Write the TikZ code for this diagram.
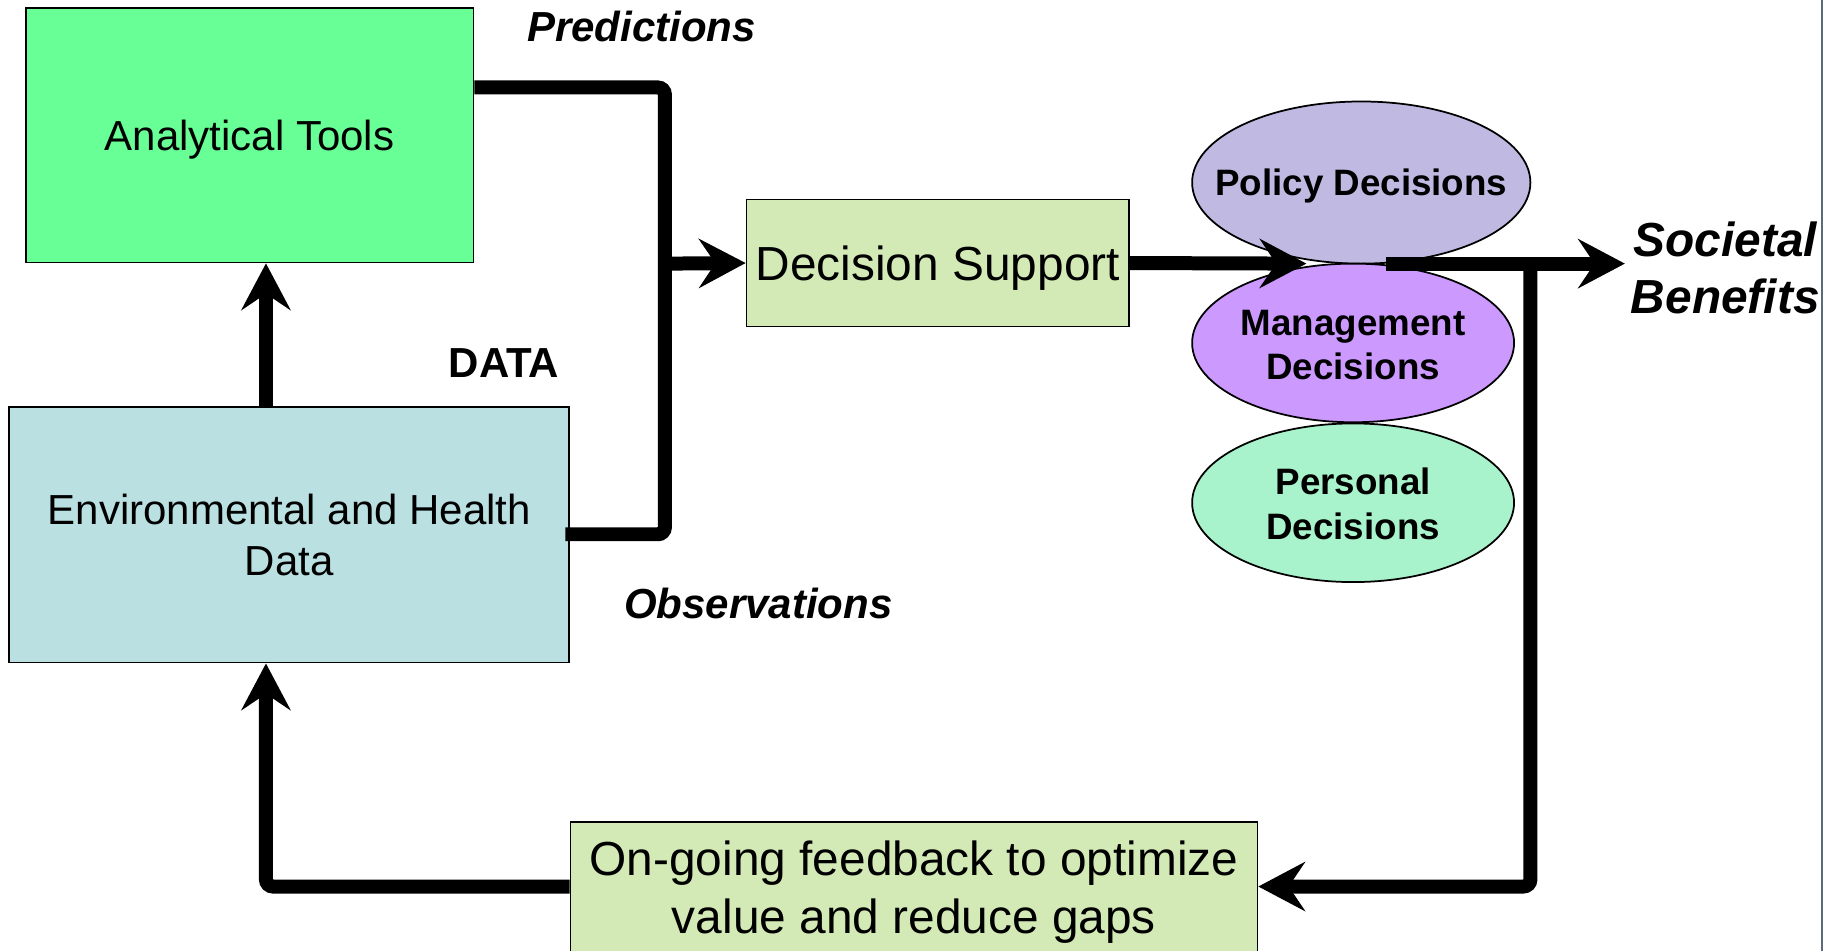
\documentclass[tikz,border=0pt]{standalone}
\usepackage{fontspec}
\setmainfont{Liberation Sans}
\usetikzlibrary{arrows.meta,shapes.geometric}
\definecolor{atgreen}{HTML}{68FF96}
\definecolor{envblue}{HTML}{BAE0E2}
\definecolor{dsgreen}{HTML}{D3EAB6}
\definecolor{polcol}{HTML}{C0BAE3}
\definecolor{mancol}{HTML}{CC99FF}
\definecolor{percol}{HTML}{A8F3CB}
\definecolor{framegrey}{HTML}{5C6B7A}
\begin{document}
\begin{tikzpicture}[x=1pt,y=-1pt,
  box/.style={draw=black, line width=1.5pt, rectangle, inner sep=0pt, align=center},
  ell/.style={draw=black, line width=1.5pt, ellipse, inner sep=0pt},
  etext/.style={font=\fontsize{31.5}{38}\selectfont\bfseries, align=center, inner sep=0pt},
  conn/.style={line width=12pt, rounded corners=6pt},
  arr/.style={conn, -{Stealth[length=40pt,width=42pt,inset=14pt]}},
  lbl/.style={font=\fontsize{36}{44}\selectfont\bfseries, inner sep=0pt}
]
\useasboundingbox (0,0) rectangle (1568,815);

% boxes
\node[box, fill=atgreen, minimum width=384, minimum height=218, text depth=0pt,
      font=\fontsize{36}{44}\selectfont] (at) at (214,116) {Analytical Tools};
\node[box, fill=envblue, minimum width=480, minimum height=219,
      font=\fontsize{36}{44}\selectfont] (env) at (248,458.5) {Environmental and Health\\Data};
\node[box, fill=dsgreen, minimum width=328, minimum height=109, text depth=0pt,
      font=\fontsize{41}{50}\selectfont] (ds) at (804,225.5) {Decision Support};
\node[box, fill=dsgreen, minimum width=589, minimum height=120,
      font=\fontsize{41}{50}\selectfont] (fb) at (783.5,765) {On-going feedback to optimize\\value and reduce gaps};

% ellipses
\node[ell, fill=polcol, minimum width=290, minimum height=139] (pol) at (1167,156.5) {};
\node[ell, fill=mancol, minimum width=276, minimum height=136] (man) at (1160,294) {};
\node[ell, fill=percol, minimum width=276, minimum height=136] (per) at (1160,431) {};
\node[etext] (polt) at ([yshift=-3pt]pol) {Policy Decisions};
\node[etext] (mant) at ([yshift=-2pt]man) {Management\\Decisions};
\node[etext] (pert) at ([yshift=-1pt]per) {Personal\\Decisions};

% labels
\node[lbl, font=\fontsize{36}{44}\selectfont\bfseries\itshape] (pred) at (550,23) {Predictions};
\node[lbl] (data) at (432,311) {DATA};
\node[lbl, font=\fontsize{36}{44}\selectfont\bfseries\itshape] (obs) at (650,517) {Observations};
\node[font=\fontsize{41}{49}\selectfont\bfseries\itshape, align=center, anchor=west, inner sep=0pt]
     (sb) at (1398,229.5) {Societal\\Benefits};

% connector coordinates
\coordinate (p1) at (570,75);
\coordinate (p2) at (570,458);
\coordinate (p3) at (570,226);
\coordinate (hit) at (1120,226);
\coordinate (s0) at (1188,226);
\coordinate (b1) at (1312,226);
\coordinate (b2) at (1312,760);
\coordinate (c1) at (228,760);
\coordinate (xc) at (228,0);

% connectors
\draw[conn] (at.east |- p1) -- (p1) -- (p2) -- ([xshift=-4pt]env.east |- p2);
\draw[arr] (p3) -- (ds.west);
\draw[arr] (env.north -| xc) -- (at.south -| xc);
\draw[arr] (ds.east) -- (hit);
\draw[arr] (s0) -- ([xshift=-5pt]s0 -| sb.west);
\draw[arr] (b1) -- (b2) -- (fb.east |- b2);
\draw[arr] (fb.west |- c1) -- (c1) -- (env.south -| xc);

% right frame edge
\coordinate (f1) at (1562,0);
\coordinate (f2) at (1562,815);
\draw[line width=2pt, framegrey] (f1) -- (f2);
\end{tikzpicture}
\end{document}
